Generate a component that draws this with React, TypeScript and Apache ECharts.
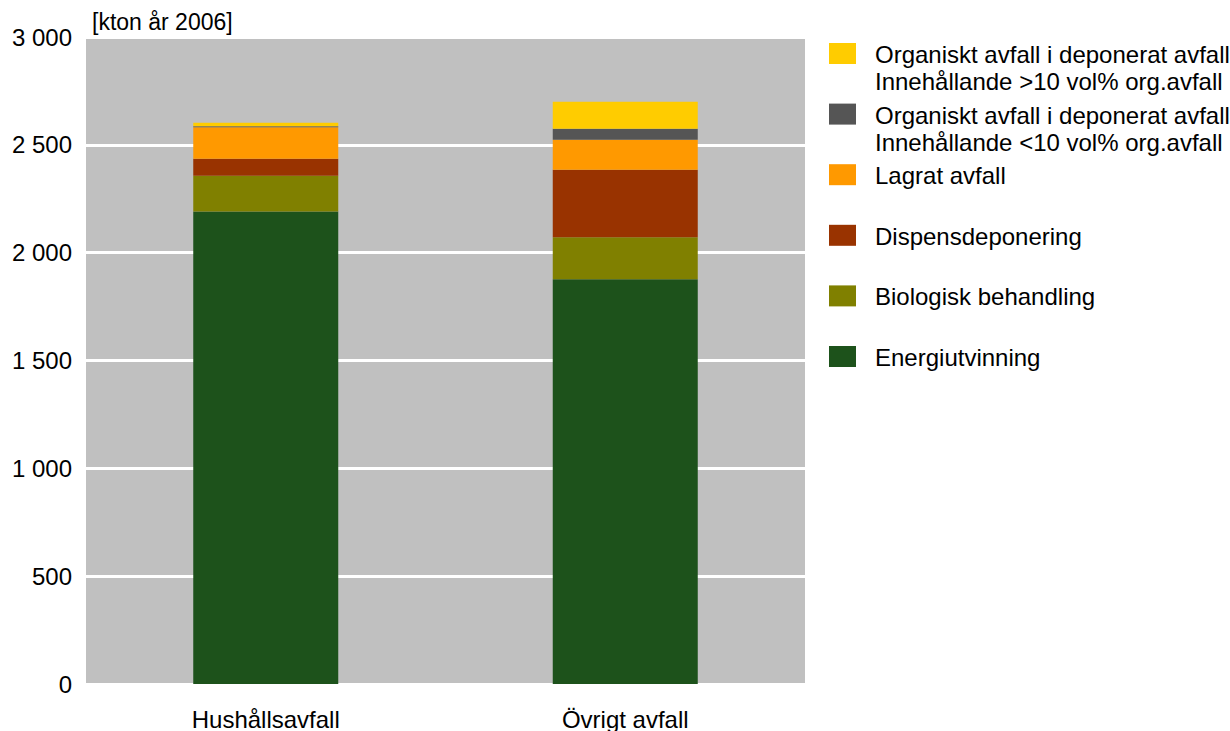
import React, { useEffect, useRef } from "react";
import * as echarts from "echarts";

// Waste streams (kton, 2006)
const categories = ["Hushållsavfall", "Övrigt avfall"];

const seriesNames = [
  "Energiutvinning",
  "Biologisk behandling",
  "Dispensdeponering",
  "Lagrat avfall",
  "Organiskt avfall i deponerat avfall\nInnehållande <10 vol% org.avfall",
  "Organiskt avfall i deponerat avfall\nInnehållande >10 vol% org.avfall",
];

const seriesColors = ["#1D521B", "#808000", "#993300", "#FF9900", "#555555", "#FFCC00"];

const energiutvinning = [2191, 1877];
const biologisk = [166, 194];
const dispens = [79, 314];
const lagrat = [145, 139];
const organiskLow = [5, 51];
const organiskHigh = [16, 125];

const seriesValues = [energiutvinning, biologisk, dispens, lagrat, organiskLow, organiskHigh];

const yTicks = { min: 0, max: 3000, interval: 500 };
const unitLabel = "[kton år 2006]";

const FONT = "'Liberation Sans', Arial, Helvetica, sans-serif";

function formatThousands(v: number): string {
  return String(v).replace(/\B(?=(\d{3})+(?!\d))/g, " ");
}

export default function App() {
  const ref = useRef<HTMLDivElement>(null);

  useEffect(() => {
    if (!ref.current) return;
    const chart = echarts.init(ref.current, undefined, { renderer: "svg" });

    // Legend drawn top-to-bottom in reverse stacking order
    const legendItems: any[] = [];
    const order = [...seriesNames.keys()].reverse();
    order.forEach((idx, i) => {
      const top = 43 + i * 60.6;
      legendItems.push({
        type: "rect",
        left: 829,
        top,
        shape: { width: 27, height: 21 },
        style: { fill: seriesColors[idx] },
      });
      legendItems.push({
        type: "text",
        left: 875,
        top: top - 2,
        style: {
          text: seriesNames[idx],
          font: `24px ${FONT}`,
          lineHeight: 27,
          fill: "#000",
        },
      });
    });

    chart.setOption({
      animation: false,
      grid: {
        left: 86,
        right: 425,
        top: 37,
        bottom: 47,
        show: true,
        backgroundColor: "#C0C0C0",
        borderWidth: 0,
      },
      xAxis: {
        type: "category",
        data: categories,
        axisLine: { show: false },
        axisTick: { show: false },
        axisLabel: {
          color: "#000",
          fontFamily: FONT,
          fontSize: 24,
          margin: 23,
        },
      },
      yAxis: {
        type: "value",
        min: yTicks.min,
        max: yTicks.max,
        interval: yTicks.interval,
        axisLine: { show: false },
        axisTick: { show: false },
        axisLabel: {
          color: "#000",
          fontFamily: FONT,
          fontSize: 24,
          margin: 14,
          formatter: (v: number) => formatThousands(v),
        },
        splitLine: { lineStyle: { color: "#FFFFFF", width: 3 } },
      },
      series: seriesNames.map((name, i) => ({
        name,
        type: "bar",
        stack: "total",
        barWidth: 145,
        data: seriesValues[i],
        itemStyle: { color: seriesColors[i] },
        emphasis: { disabled: true },
      })),
      graphic: [
        {
          type: "text",
          left: 92,
          top: 10,
          style: {
            text: unitLabel,
            font: `23px ${FONT}`,
            fill: "#000",
          },
        },
        ...legendItems,
      ],
    });

    return () => chart.dispose();
  }, []);

  return (
    <div
      ref={ref}
      style={{ position: "fixed", left: 0, top: 0, width: 1230, height: 731, background: "#fff" }}
    />
  );
}
